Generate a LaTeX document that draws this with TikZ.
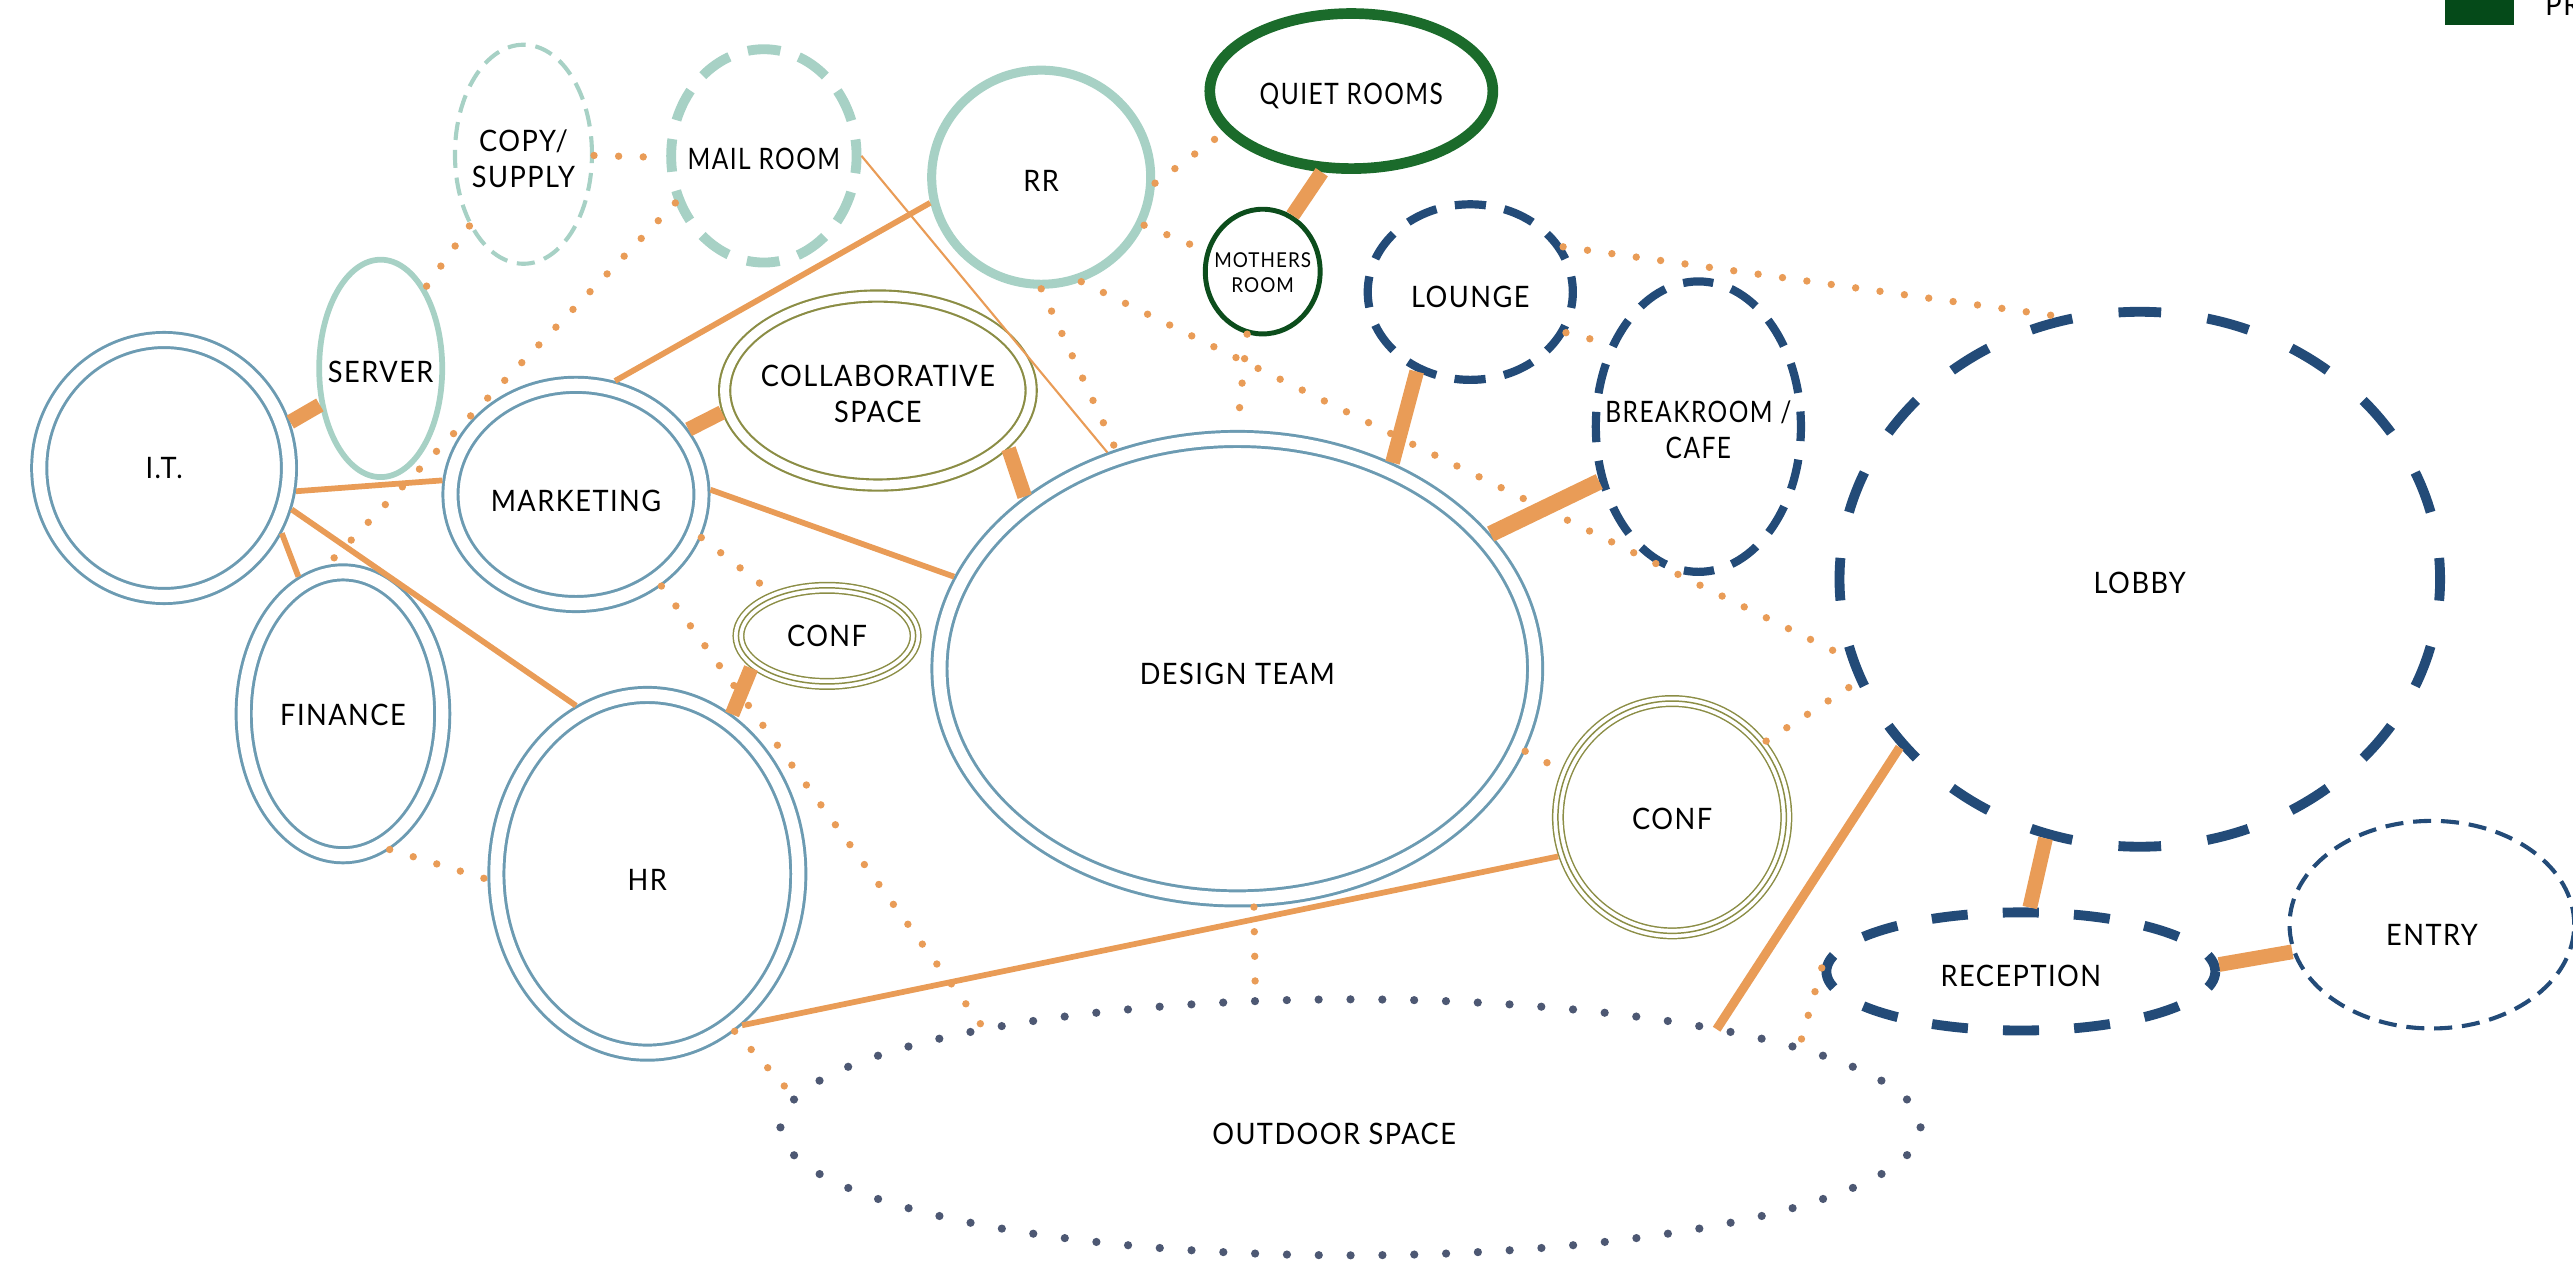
\documentclass[tikz,border=0pt]{standalone}
\usepackage{fontspec}
\setmainfont{Lato}[FakeStretch=0.92,LetterSpace=5]
\newfontfamily\narrowfont{Lato}[FakeStretch=0.83,LetterSpace=5]
\usetikzlibrary{shapes.geometric}
\definecolor{cOrange}{HTML}{E99C57}
\definecolor{cSteel}{HTML}{6C9BB2}
\definecolor{cMint}{HTML}{A7D1C5}
\definecolor{cOlive}{HTML}{8B8D45}
\definecolor{cNavy}{HTML}{234B78}
\definecolor{cGreen}{HTML}{1B6B2B}
\definecolor{cDkGreen}{HTML}{0C4D1C}
\definecolor{cSlate}{HTML}{4D5873}
\definecolor{cLegend}{HTML}{054A19}
\newcommand\roomfont{\fontsize{18pt}{22pt}\selectfont}
\newcommand\smallroomfont{\fontsize{12.5pt}{15pt}\selectfont}
\newcommand\rlabel[2][-4pt]{\makebox[0pt]{\raisebox{#1}[\height][\depth]{\begin{tabular}{@{}c@{}}#2\end{tabular}}}}
\begin{document}
\begin{tikzpicture}[x=1pt,y=-1pt,
  room/.style={ellipse, inner sep=0pt, font=\roomfont, fill=white},
  dblroom/.style={room, draw=cSteel, line width=1.8pt, double=white, double distance=7.4pt, outer sep=5.5pt},
  collabroom/.style={room, draw=cOlive, line width=1.3pt, double=white, double distance=5.5pt, outer sep=4pt},
  tripleroom/.style={room, fill=none, preaction={fill=white},
     preaction={draw=cOlive, line width=7.3pt}, preaction={draw=white, line width=5.5pt},
     draw=cOlive, line width=0.9pt, outer sep=3.65pt},
  mintroom/.style={room, draw=cMint},
  navyroom/.style={room, draw=cNavy},
  thickc/.style={draw=cOrange, line width=9pt},
  medc/.style={draw=cOrange, line width=3.5pt},
  thinc/.style={draw=cOrange, line width=1.3pt},
  dotc/.style={draw=cOrange, line width=4.5pt, line cap=round, dash pattern=on 0pt off 15pt}
]
\useasboundingbox (0,0) rectangle (1568,770);

% rooms
\node[room, draw=cSlate, line width=5pt, line cap=round, dash pattern=on 0pt off 19.4pt,
      minimum width=694.8pt, minimum height=156pt, outer sep=0pt] (outdoor) at (823,687) {\rlabel[-6pt]{OUTDOOR SPACE\hspace*{20pt}}};
\node[dblroom, minimum width=152.2pt, minimum height=156pt] (it) at (100,285.2) {\rlabel[-2pt]{I.T.}};
\node[mintroom, line width=3.5pt, outer sep=1.75pt, minimum width=75pt, minimum height=132.5pt] (server) at (232,224.5) {\rlabel{SERVER}};
\node[mintroom, line width=2.5pt, outer sep=1.25pt, dash pattern=on 11pt off 6pt,
      minimum width=83.5pt, minimum height=133.5pt] (copy) at (319,94) {\rlabel[-5pt]{COPY/\\SUPPLY}};
\node[mintroom, line width=6pt, outer sep=3pt, dash pattern=on 20pt off 11.8pt, dash phase=10pt,
      minimum width=113pt, minimum height=130pt] (mail) at (465.5,95) {\rlabel{\narrowfont MAIL ROOM}};
\node[mintroom, line width=5.5pt, outer sep=2.75pt, minimum width=133.5pt, minimum height=130.5pt] (rr) at (634.5,108) {\rlabel{RR}};
\node[room, draw=cGreen, line width=6.5pt, outer sep=3.25pt, minimum width=172.5pt, minimum height=94.5pt] (quiet) at (823.5,55.5) {\rlabel{\narrowfont QUIET ROOMS}};
\node[room, draw=cDkGreen, line width=3pt, outer sep=1.5pt, minimum width=70pt, minimum height=76pt,
      font=\smallroomfont] (mothers) at (769.5,165.5) {\rlabel[-2pt]{MOTHERS\\ROOM}};
\node[navyroom, line width=5pt, outer sep=2.5pt, dash pattern=on 19pt off 11.4pt, dash phase=9.5pt,
      minimum width=125pt, minimum height=107pt] (lounge) at (896,178) {\rlabel[-5pt]{LOUNGE}};
\node[navyroom, line width=5pt, outer sep=2.5pt, dash pattern=on 18.5pt off 11.4pt, dash phase=9.25pt,
      minimum width=125pt, minimum height=177pt] (breakroom) at (1035,260) {\rlabel{\narrowfont BREAKROOM /\\\narrowfont CAFE}};
\node[navyroom, line width=6pt, outer sep=3pt, dash pattern=on 26pt off 28.4pt, dash phase=13pt,
      minimum width=366pt, minimum height=326pt] (lobby) at (1304,353) {\rlabel{LOBBY}};
\node[navyroom, line width=6pt, outer sep=3pt, dash pattern=on 22pt off 21.4pt, dash phase=11pt,
      minimum width=237pt, minimum height=72pt] (reception) at (1231.5,592) {\rlabel[-5pt]{RECEPTION}};
\node[navyroom, line width=2.5pt, outer sep=1.25pt, dash pattern=on 11pt off 6pt,
      minimum width=173.5pt, minimum height=126.5pt] (entry) at (1482,563.5) {\rlabel[-8pt]{ENTRY}};
\node[collabroom, minimum width=186.8pt, minimum height=115.2pt] (collab) at (535,238) {\rlabel{COLLABORATIVE\\SPACE}};
\node[dblroom, minimum width=153pt, minimum height=133.6pt] (marketing) at (351,301.3) {\rlabel[-6pt]{MARKETING}};
\node[tripleroom, minimum width=108pt, minimum height=58.6pt] (confa) at (504,387.5) {\rlabel[-2pt]{CONF}};
\node[dblroom, minimum width=121pt, minimum height=172.4pt] (finance) at (209,435) {\rlabel[-3pt]{FINANCE}};
\node[dblroom, minimum width=184pt, minimum height=218pt] (hr) at (394.5,532.5) {\rlabel[-6pt]{HR}};
\node[dblroom, minimum width=363pt, minimum height=280pt] (design) at (754,407.5) {\rlabel[-5pt]{DESIGN TEAM}};
\node[tripleroom, minimum width=139.2pt, minimum height=141.6pt] (confb) at (1019,498) {\rlabel[-3pt]{CONF}};

% legend
\node[fill=cLegend, minimum width=42pt, minimum height=15pt, inner sep=0pt, anchor=north west] (legbox) at (1490,0) {};
\node[anchor=base west, font=\roomfont, inner sep=0pt] (legtext) at (1551,9.5) {PR};

% thick connectors
\draw[thickc] (it.20) -- (server.211);
\draw[thickc] (marketing.30) -- (collab.188);
\draw[thickc] (collab.336) -- (design.141);
\draw[thickc] (quiet.250) -- (mothers.62);
\draw[thickc] (lounge.236) -- (design.53);
\draw[thickc, line width=10pt] (breakroom.209) -- (design.28);
\draw[thickc] (confa.203) -- (hr.62);
\draw[thickc] (lobby.250) -- (reception.82);
\draw[thickc] (reception.2) -- (entry.191);
\draw[thickc, line width=5.5pt] (lobby.215) -- (outdoor.15);

% medium connectors
\draw[medc] (it.350) -- (marketing.174);
\draw[medc] (it.331) -- (finance.108);
\draw[medc] (it.342) -- (hr.113);
\draw[medc] (marketing.71) -- (rr.193);
\draw[medc] (marketing.2) -- (design.162);
\draw[medc] (hr.302) -- (confb.199);

% thin connector
\draw[thinc] (mail.0) -- (design.121);

% dotted connectors
\draw[dotc] (copy.359) -- (mail.181);
\draw[dotc] (copy.233) -- (server.61);
\draw[dotc] (mail.208) -- (finance.96);
\draw[dotc] (rr.357) -- (quiet.198);
\draw[dotc] (rr.335) -- (mothers.160);
\draw[dotc] (rr.270) -- (design.119);
\draw[dotc] (rr.291) -- (lobby.195);
\draw[dotc] (mothers.256) -- (design.90);
\draw[dotc] (lounge.26) -- (lobby.107);
\draw[dotc] (lounge.337) -- (breakroom.137);
\draw[dotc] (marketing.341) -- (confa.142);
\draw[dotc] (marketing.313) -- (outdoor.165);
\draw[dotc] (finance.289) -- (hr.182);
\draw[dotc] (hr.299) -- (outdoor.177);
\draw[dotc] (design.274) -- (outdoor.127);
\draw[dotc] (design.344) -- (confb.157);
\draw[dotc] (confb.39) -- (lobby.200);
\draw[dotc] (reception.179) -- (outdoor.10);
\end{tikzpicture}
\end{document}
